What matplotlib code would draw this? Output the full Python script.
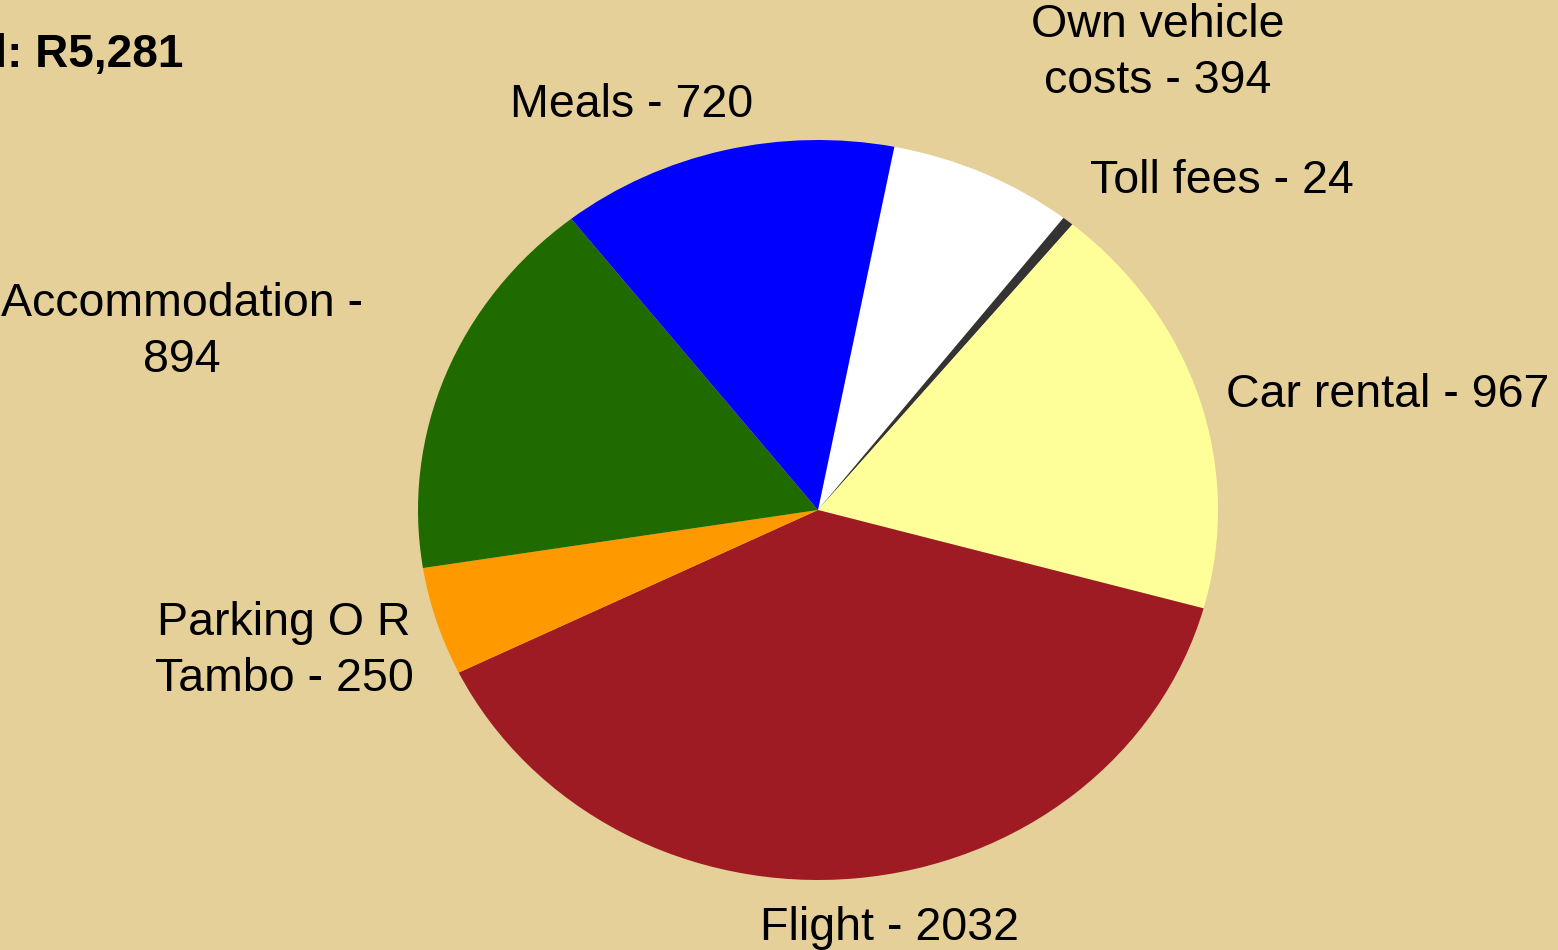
import matplotlib.pyplot as plt

# travel expense breakdown (Rand)
labels = ['Own vehicle\ncosts - 394', 'Toll fees - 24', 'Car rental - 967',
          'Flight - 2032', 'Parking O R\nTambo - 250', 'Accommodation -\n894',
          'Meals - 720']
values = [394, 24, 967, 2032, 250, 894, 720]
colors = ['#FFFFFF', '#333333', '#FFFF99', '#9E1B24', '#FF9900', '#1F6B00', '#0000FF']
title = 'Total: R5,281'

# label centres in data units (pie radius = 1)
label_pos = [(0.85, 1.235), (1.01, 0.89), (1.425, 0.31), (0.18, -1.13),
             (-1.335, -0.38), (-1.59, 0.48), (-0.465, 1.095)]

bg = '#E5D09A'
plt.rcParams['font.family'] = ['Liberation Sans', 'DejaVu Sans']

fig = plt.figure(figsize=(15.58, 9.5), dpi=100, facecolor=bg)
ax = fig.add_axes([0, 0, 1, 1])
ax.set_facecolor(bg)

wedges, texts = ax.pie(values, labels=labels, colors=colors, startangle=79.0,
                       counterclock=False, wedgeprops=dict(linewidth=0),
                       textprops=dict(fontsize=33.5))
for t, (x, y) in zip(texts, label_pos):
    t.set_position((x, y))
    t.set_ha('center')
    t.set_va('center')
    t.set_multialignment('center')
    t.set_linespacing(1.35)

# pie is a bit wider than tall in the original
ax.set_aspect('auto')
ax.set_xlim(-818 / 400, (1558 - 818) / 400)
ax.set_ylim(-440 / 370, 510 / 370)
ax.axis('off')

fig.text(183 / 1558, 1 - 55 / 950, title, ha='right', va='center',
         fontsize=33, fontweight='bold')

fig.savefig('out.png', dpi=100, facecolor=bg)
